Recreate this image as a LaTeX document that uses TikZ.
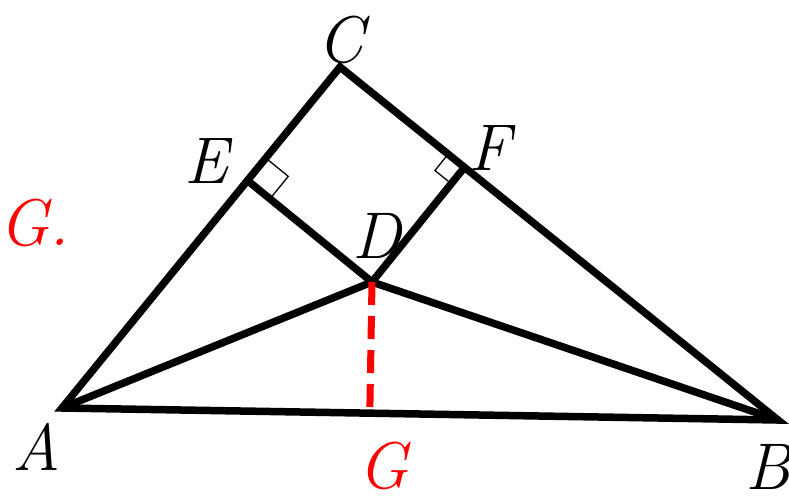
\documentclass[tikz,border=0pt]{standalone}
\usetikzlibrary{calc}

\begin{document}
\begin{tikzpicture}[x=1pt, y=-1pt,
  lbl/.style={font=\fontsize{66}{66}\selectfont\itshape, inner sep=0pt, anchor=base},
  side/.style={line width=7.5pt},
  alt/.style={red, line width=7pt, dash pattern=on 23pt off 11pt},
  rmark/.style={line width=1.3pt}
]
\useasboundingbox (0,0) rectangle (789,496);
% vertices
\coordinate (A) at (62,408);
\coordinate (B) at (778,420);
\coordinate (C) at (340,67);
\coordinate (D) at (372,282);
\coordinate (E) at ($(A)!(D)!(C)$);
\coordinate (F) at ($(B)!(D)!(C)$);
\coordinate (G) at ($(A)!(D)!(B)$);
% triangle and segments
\draw[side] (A) -- (B) -- (C) -- cycle;
\draw[side] (E) -- (D) -- (F);
\draw[side] (A) -- (D) -- (B);
\draw[alt] (D) -- (G);
% right angles
\coordinate (e1) at ($(E)!29pt!(C)$);
\coordinate (e2) at ($(E)!29pt!(D)$);
\draw[rmark] (e1) -- ($(e1)+(e2)-(E)$) -- (e2);
\coordinate (f1) at ($(F)!21pt!(C)$);
\coordinate (f2) at ($(F)!21pt!(D)$);
\draw[rmark] (f1) -- ($(f1)+(f2)-(F)$) -- (f2);
% labels
\node[lbl] (lC) at (341,62) {C};
\node[lbl] (lE) at (206,183) {E};
\node[lbl] (lF) at (490,170) {F};
\node[lbl] (lD) at (377,258) {D};
\node[lbl] (lA) at (36,470) {A};
\node[lbl] (lB) at (768,489) {B};
\node[lbl, red] (lG) at (383,488) {G};
\node[lbl, red] (lG2) at (34,245) {G.};
\end{tikzpicture}
\end{document}
